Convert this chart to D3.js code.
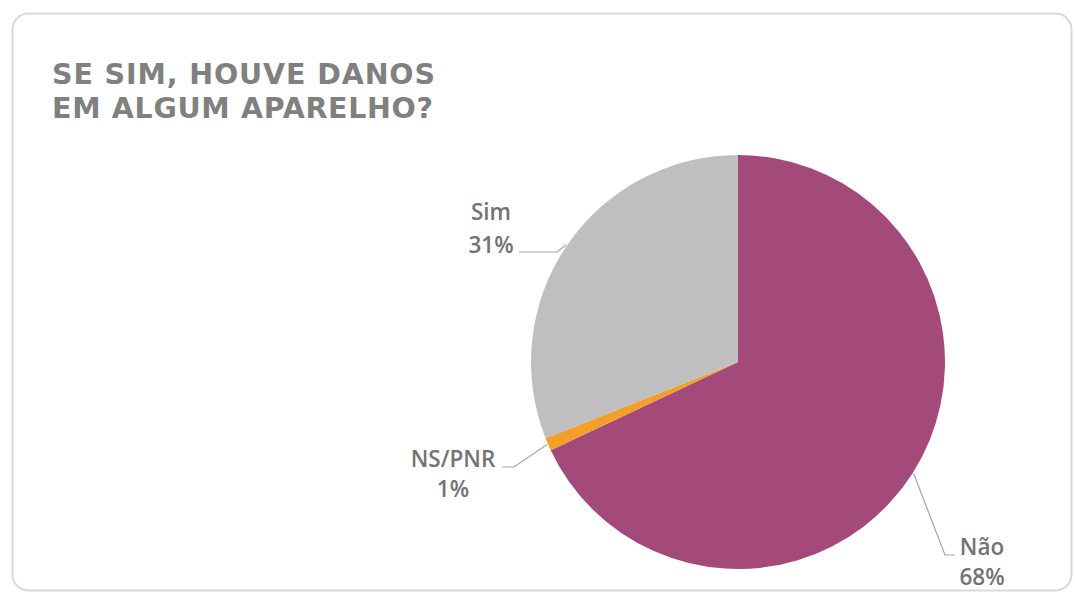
<!DOCTYPE html>
<html>
<head>
<meta charset="utf-8">
<script src="https://cdn.jsdelivr.net/npm/d3@7"></script>
<style>
  html, body { margin: 0; padding: 0; background: #ffffff; }
  svg { display: block; }
</style>
</head>
<body>
<svg id="chart" width="1075" height="604"></svg>
<script>
const titleLines = ["SE SIM, HOUVE DANOS", "EM ALGUM APARELHO?"];
const categories = ["Não", "NS/PNR", "Sim"];
const values = [68, 1, 31];
const colors = ["#A44A7A", "#F2A02A", "#BFBFBF"];

const W = 1075, H = 604;
const svg = d3.select("#chart");

// card
svg.append("rect")
  .attr("x", 12.5).attr("y", 13.5)
  .attr("width", 1059).attr("height", 577)
  .attr("rx", 16).attr("ry", 16)
  .attr("fill", "#ffffff")
  .attr("stroke", "#d9d9d9")
  .attr("stroke-width", 2);

// title
const title = svg.append("text")
  .attr("font-family", "'DejaVu Sans', Verdana, sans-serif")
  .attr("font-weight", "bold")
  .attr("font-size", 28.5)
  .attr("fill", "#808080");
const titleY = [84, 118];
const titleW = [383, 381];
titleLines.forEach((t, i) => {
  title.append("tspan")
    .attr("x", 52).attr("y", titleY[i])
    .attr("textLength", titleW[i])
    .attr("lengthAdjust", "spacing")
    .text(t);
});

// pie
const cx = 738, cy = 362, r = 207;
const pie = d3.pie().sort(null).value(d => d.value).startAngle(0).endAngle(2 * Math.PI);
const data = categories.map((c, i) => ({ cat: c, value: values[i], color: colors[i] }));
const arcs = pie(data);
const arc = d3.arc().innerRadius(0).outerRadius(r);
const edgeArc = d3.arc().innerRadius(r + 1).outerRadius(r + 1);

const g = svg.append("g").attr("transform", `translate(${cx},${cy})`);
g.selectAll("path.slice")
  .data(arcs)
  .join("path")
  .attr("class", "slice")
  .attr("d", arc)
  .attr("fill", d => d.data.color)
  .attr("stroke", "none");

// leader lines + labels (label anchors in page coords)
const labelLayout = {
  "Sim":    { bend: [557, 252], end: [519, 252], tx: 491, ty: [220, 253] },
  "NS/PNR": { bend: [514, 467], end: [502, 467], tx: 453, ty: [467, 497] },
  "Não":    { bend: [945, 555], end: [955, 555], tx: 982, ty: [555, 585] }
};

const line = d3.line();
arcs.forEach(a => {
  const L = labelLayout[a.data.cat];
  const c = edgeArc.centroid(a);
  const start = [cx + c[0], cy + c[1]];
  svg.append("path")
    .attr("d", line([start, L.bend, L.end]))
    .attr("fill", "none")
    .attr("stroke", "#a6a6a6")
    .attr("stroke-width", 1.2);
  const t = svg.append("text")
    .attr("font-family", "'Open Sans', 'Liberation Sans', sans-serif")
    .attr("font-size", 22.5)
    .attr("font-weight", 600)
    .attr("fill", "#737373")
    .attr("text-anchor", "middle");
  t.append("tspan").attr("x", L.tx).attr("y", L.ty[0]).text(a.data.cat);
  t.append("tspan").attr("x", L.tx).attr("y", L.ty[1]).text(a.data.value + "%");
});
</script>
</body>
</html>
